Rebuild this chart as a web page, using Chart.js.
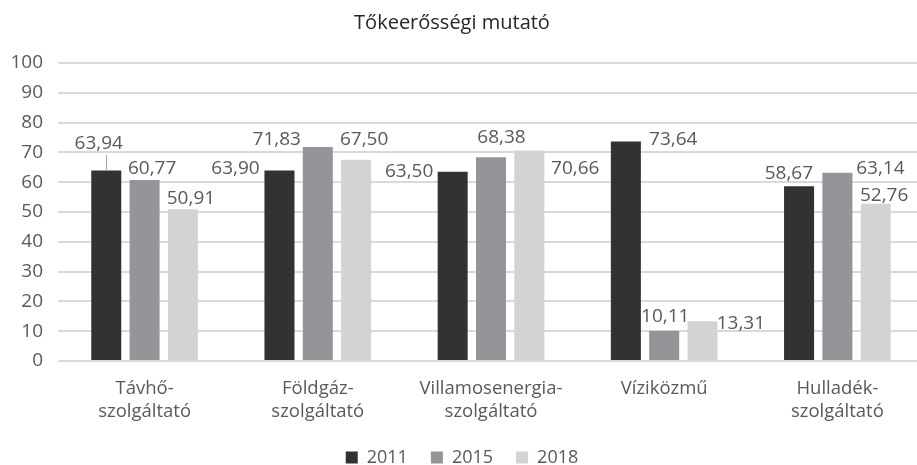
<!DOCTYPE html>
<html><head><meta charset="utf-8">
<script src="https://cdn.jsdelivr.net/npm/chart.js@4.4.1/dist/chart.umd.min.js"></script>
<style>
html,body{margin:0;padding:0;background:#fff;overflow:hidden;width:917px;height:465px}
#wrap{width:924px;height:465px}
</style></head><body>
<div id="wrap"><canvas id="c" width="924" height="465"></canvas></div>
<script>
const titleText = 'Tőkeerősségi mutató';
const categories = [['Távhő-','szolgáltató'],['Földgáz-','szolgáltató'],['Villamosenergia-','szolgáltató'],['Víziközmű'],['Hulladék-','szolgáltató']];
const seriesNames = ['2011','2015','2018'];
const values2011 = [63.94, 63.90, 63.50, 73.64, 58.67];
const values2015 = [60.77, 71.83, 68.38, 10.11, 63.14];
const values2018 = [50.91, 67.50, 70.66, 13.31, 52.76];
const yMin = 0, yMax = 100, yStep = 10;

const seriesColors = ['#333132','#939598','#d1d3d4'];
const textColor = '#595959';
const FONT = "'Open Sans', sans-serif";
const FS_LABEL = 19, FS_TICK = 19, FS_CAT = 18.5, FS_TITLE = 20, FS_LEGEND = 18;
// label placement: [dx, dy, leaderLine] in px relative to the bar's top centre
const labelOffsets = [
  [[-7.5,-28.5,true],[-44,-3.6],[-43.5,-1.5],[47.4,-3],[-10.2,-14.2]],
  [[7.5,-12.6],[-41,-8.3],[10.5,-21.1],[1.1,-15.6],[43,-5.8]],
  [[8,-12.3],[8,-21.6],[45.9,16.6],[38.3,0.7],[8.4,-10]]
];

const fmt = v => v.toFixed(2).replace('.', ',');

const valueLabels = {
  id: 'valueLabels',
  afterDatasetsDraw(chart) {
    const ctx = chart.ctx;
    ctx.save();
    ctx.font = FS_LABEL + 'px ' + FONT;
    ctx.fillStyle = textColor;
    ctx.textAlign = 'center';
    ctx.textBaseline = 'alphabetic';
    chart.data.datasets.forEach((ds, di) => {
      const meta = chart.getDatasetMeta(di);
      meta.data.forEach((bar, i) => {
        const o = labelOffsets[di][i];
        const cx = bar.x + o[0], cy = bar.y + o[1];
        ctx.fillText(fmt(ds.data[i]), cx, cy + 0.357 * FS_LABEL);
        if (o[2]) {
          ctx.strokeStyle = '#a6a6a6';
          ctx.lineWidth = 1;
          ctx.beginPath();
          ctx.moveTo(Math.round(bar.x) + 0.5, cy + 13);
          ctx.lineTo(Math.round(bar.x) + 0.5, bar.y);
          ctx.stroke();
        }
      });
    });
    ctx.restore();
  }
};

const titleDraw = {
  id: 'titleDraw',
  afterDraw(chart) {
    const ctx = chart.ctx;
    ctx.save();
    ctx.font = FS_TITLE + 'px ' + FONT;
    ctx.fillStyle = '#262626';
    ctx.textAlign = 'center';
    ctx.textBaseline = 'alphabetic';
    ctx.fillText(titleText, chart.width / 2 - 10, 29);
    ctx.restore();
  }
};

Chart.defaults.font.family = FONT;
Chart.defaults.font.size = FS_TICK;
Chart.defaults.color = textColor;

new Chart(document.getElementById('c'), {
  type: 'bar',
  data: {
    labels: categories,
    datasets: [
      {label: seriesNames[0], data: values2011, backgroundColor: seriesColors[0]},
      {label: seriesNames[1], data: values2015, backgroundColor: seriesColors[1]},
      {label: seriesNames[2], data: values2018, backgroundColor: seriesColors[2]}
    ]
  },
  options: {
    responsive: false,
    animation: false,
    events: [],
    datasets: {bar: {categoryPercentage: 0.664, barPercentage: 0.783, borderWidth: 0}},
    layout: {padding: {left: 0, right: 0, top: 63, bottom: 0}},
    scales: {
      x: {
        grid: {display: false, drawTicks: false},
        border: {display: false},
        ticks: {color: textColor, padding: 16, font: {size: FS_CAT, lineHeight: 1.26}, maxRotation: 0, autoSkip: false},
        afterFit(s) { s.height = 64.5; }
      },
      y: {
        min: yMin, max: yMax,
        grid: {color: '#d9d9d9', lineWidth: 2, drawTicks: false},
        border: {display: false},
        ticks: {stepSize: yStep, color: textColor, padding: 15, font: {size: FS_TICK}},
        afterFit(s) { s.width = 58; }
      }
    },
    plugins: {
      title: {display: false},
      tooltip: {enabled: false},
      legend: {
        position: 'bottom',
        maxHeight: 39.5,
        labels: {boxWidth: 12, boxHeight: 12, padding: 23, color: textColor, font: {size: FS_LEGEND}}
      }
    }
  },
  plugins: [valueLabels, titleDraw]
});
</script>
</body></html>
